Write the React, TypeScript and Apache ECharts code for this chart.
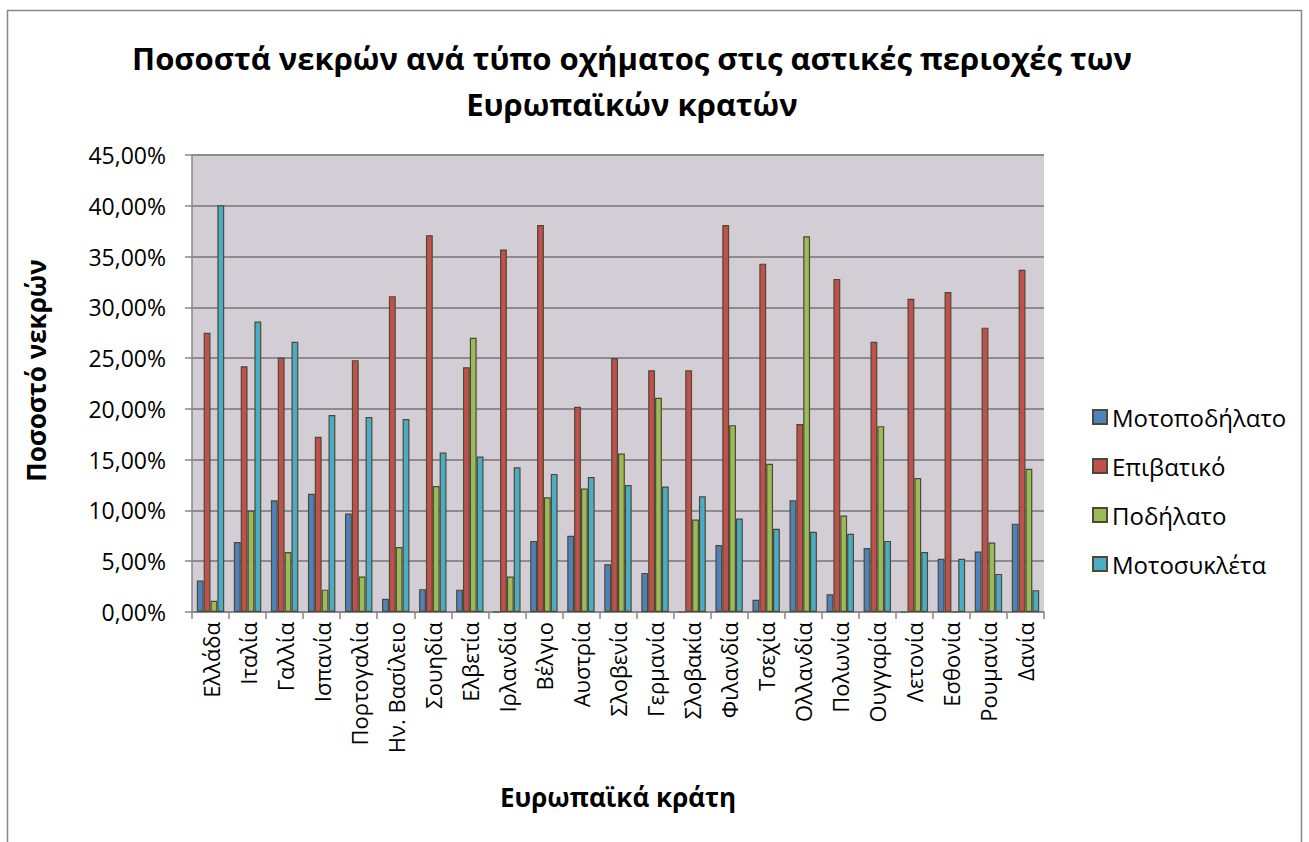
import React, { useEffect, useRef } from "react";
import * as echarts from "echarts";

const categories = [
  "Ελλάδα", "Ιταλία", "Γαλλία", "Ισπανία", "Πορτογαλία", "Ην. Βασίλειο", "Σουηδία", "Ελβετία",
  "Ιρλανδία", "Βέλγιο", "Αυστρία", "Σλοβενία", "Γερμανία", "Σλοβακία", "Φιλανδία", "Τσεχία",
  "Ολλανδία", "Πολωνία", "Ουγγαρία", "Λετονία", "Εσθονία", "Ρουμανία", "Δανία",
];
const moped = [3.1, 6.9, 11.0, 11.65, 9.7, 1.3, 2.25, 2.2, 0, 7.0, 7.5, 4.7, 3.85, 0, 6.6, 1.2, 11.0, 1.75, 6.3, 0, 5.25, 5.95, 8.7];
const car = [27.5, 24.2, 25.05, 17.25, 24.8, 31.1, 37.1, 24.1, 35.7, 38.1, 20.2, 25.0, 23.8, 23.8, 38.1, 34.3, 18.5, 32.8, 26.6, 30.85, 31.5, 28.0, 33.7];
const bicycle = [1.1, 10.0, 5.9, 2.2, 3.5, 6.4, 12.4, 27.0, 3.5, 11.3, 12.15, 15.6, 21.1, 9.1, 18.4, 14.6, 37.0, 9.5, 18.3, 13.2, 0, 6.85, 14.1];
const motorcycle = [40.05, 28.6, 26.6, 19.4, 19.2, 19.0, 15.7, 15.3, 14.25, 13.6, 13.3, 12.5, 12.35, 11.4, 9.2, 8.2, 7.9, 7.7, 7.0, 5.9, 5.25, 3.75, 2.15];
const seriesNames = ["Μοτοποδήλατο", "Επιβατικό", "Ποδήλατο", "Μοτοσυκλέτα"];
const seriesColors = ["#4F81BD", "#C0504D", "#9BBB59", "#4BACC6"];
const yTicks = [0, 5, 10, 15, 20, 25, 30, 35, 40, 45];

const FONT = "'Open Sans', 'Noto Sans', sans-serif";

export default function App() {
  const ref = useRef<HTMLDivElement>(null);
  useEffect(() => {
    if (!ref.current) return;
    const chart = echarts.init(ref.current, undefined, { renderer: "svg" });
    const data = [moped, car, bicycle, motorcycle];
    chart.setOption({
      animation: false,
      backgroundColor: "#ffffff",
      textStyle: { fontFamily: FONT, color: "#000" },
      title: {
        text: "Ποσοστά νεκρών ανά τύπο οχήματος στις αστικές περιοχές των\nΕυρωπαϊκών κρατών",
        left: 627,
        top: 30,
        textAlign: "center",
        textStyle: { fontFamily: FONT, fontSize: 31, fontWeight: "bold", color: "#000", lineHeight: 46 },
      },
      graphic: [
        {
          type: "rect",
          shape: { x: 7.5, y: 10.5, width: 1294, height: 840 },
          style: { fill: "none", stroke: "#878787", lineWidth: 1.5 },
          silent: true,
        },
      ],
      legend: {
        orient: "vertical",
        left: 1087,
        top: 400,
        itemGap: 25,
        itemWidth: 14,
        itemHeight: 14,
        icon: "rect",
        textStyle: { fontFamily: FONT, fontSize: 24, color: "#000" },
        data: seriesNames,
      },
      grid: { left: 192, right: 265, top: 155, bottom: 230, show: true, backgroundColor: "#D3CDD6", borderWidth: 0 },
      xAxis: {
        type: "category",
        data: categories,
        name: "Ευρωπαϊκά κράτη",
        nameLocation: "middle",
        nameGap: 172,
        nameTextStyle: { fontFamily: FONT, fontSize: 26, fontWeight: "bold", color: "#000" },
        axisLine: { show: true, lineStyle: { color: "#878787", width: 1.5 } },
        axisTick: { show: true, length: 7, lineStyle: { color: "#878787", width: 1.5 } },
        axisLabel: { rotate: 90, fontSize: 22, color: "#000", fontFamily: FONT, margin: 10, interval: 0 },
      },
      yAxis: {
        type: "value",
        min: 0,
        max: 45,
        interval: 5,
        name: "Ποσοστό νεκρών",
        nameLocation: "middle",
        nameGap: 143,
        nameTextStyle: { fontFamily: FONT, fontSize: 26, fontWeight: "bold", color: "#000", padding: [0, 0, 0, 26] },
        axisLine: { show: true, lineStyle: { color: "#878787", width: 1.5 } },
        axisTick: { show: true, length: 7, lineStyle: { color: "#878787", width: 1.5 } },
        axisLabel: {
          fontSize: 23,
          color: "#000",
          fontFamily: FONT,
          margin: 26,
          formatter: (v: number) => (yTicks.includes(v) ? v.toFixed(2).replace(".", ",") + "%" : ""),
        },
        splitLine: { show: true, lineStyle: { color: "#8C8C8C", width: 2 } },
      },
      series: seriesNames.map((name, i) => ({
        name,
        type: "bar",
        data: data[i],
        barGap: "0%",
        barCategoryGap: "26%",
        itemStyle: { color: seriesColors[i], borderColor: "#4D4A33", borderWidth: 1.2 },
      })),
    });
    return () => chart.dispose();
  }, []);
  return <div ref={ref} style={{ position: "fixed", left: 0, top: 0, width: 1309, height: 842 }} />;
}
